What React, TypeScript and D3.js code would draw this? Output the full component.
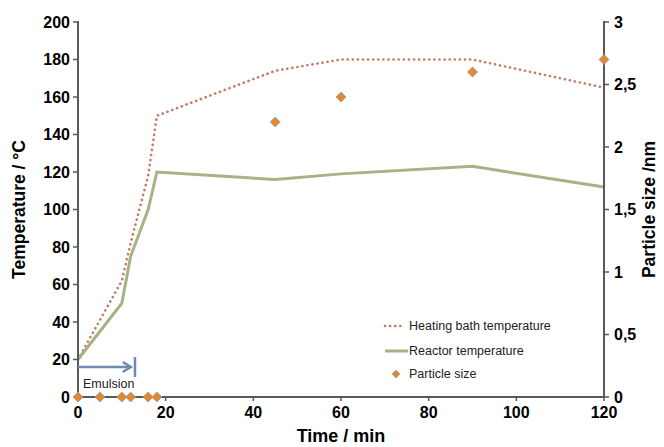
import * as d3 from 'd3';

const bathTime = [0, 10, 12, 16, 18, 45, 60, 90, 120];
const bathTemp = [20, 62, 82, 118, 150, 174, 180, 180, 165];
const reactorTime = [0, 10, 12, 16, 18, 45, 60, 90, 120];
const reactorTemp = [20, 50, 75, 100, 120, 116, 119, 123, 112];
const particleTime = [0, 5, 10, 12, 16, 18, 45, 60, 90, 120];
const particleSize = [0, 0, 0, 0, 0, 0, 2.2, 2.4, 2.6, 2.7];
const xTicks = [0, 20, 40, 60, 80, 100, 120];
const yTicks = [0, 20, 40, 60, 80, 100, 120, 140, 160, 180, 200];
const y2Ticks = [0, 0.5, 1, 1.5, 2, 2.5, 3];

const W = 664;
const H = 447;
const left = 78;
const right = 604;
const top = 22;
const bottom = 397;
const font = '"Liberation Sans", Arial, sans-serif';
const axisColor = '#595959';
const bathColor = '#c47a62';
const reactorColor = '#a7b386';
const dotColor = '#e0892f';

export default function App() {
  const x = d3.scaleLinear().domain([0, 120]).range([left, right]);
  const y = d3.scaleLinear().domain([0, 200]).range([bottom, top]);
  const y2 = d3.scaleLinear().domain([0, 3]).range([bottom, top]);

  const bathLine = d3
    .line<number>()
    .x((_, i) => x(bathTime[i]))
    .y((d) => y(d));
  const reactorLine = d3
    .line<number>()
    .x((_, i) => x(reactorTime[i]))
    .y((d) => y(d));

  const diamond = (cx: number, cy: number, r = 5) =>
    `M${cx},${cy - r}L${cx + r},${cy}L${cx},${cy + r}L${cx - r},${cy}Z`;

  return (
    <svg
      width={W}
      height={H}
      style={{ position: 'absolute', left: 0, top: 0, background: '#fff' }}
      fontFamily={font}
    >
      {/* series */}
      <path
        d={bathLine(bathTemp) ?? ''}
        fill="none"
        stroke={bathColor}
        strokeWidth={2.6}
        strokeDasharray="0.1 5"
        strokeLinecap="round"
      />
      <path d={reactorLine(reactorTemp) ?? ''} fill="none" stroke={reactorColor} strokeWidth={3} />

      {/* axes */}
      <g stroke={axisColor} strokeWidth={2}>
        <line x1={left} x2={left} y1={top - 1} y2={bottom + 1} />
        <line x1={right} x2={right} y1={top - 1} y2={bottom + 1} />
        <line x1={left} x2={right} y1={bottom} y2={bottom} />
      </g>
      {yTicks.map((t) => (
        <g key={`y${t}`}>
          <line x1={left - 5} x2={left} y1={y(t)} y2={y(t)} stroke={axisColor} strokeWidth={1.5} />
          <text x={left - 8} y={y(t)} dy="0.35em" textAnchor="end" fontSize={16} fontWeight="bold">
            {t}
          </text>
        </g>
      ))}
      {y2Ticks.map((t) => (
        <g key={`y2${t}`}>
          <line x1={right} x2={right + 5} y1={y2(t)} y2={y2(t)} stroke={axisColor} strokeWidth={1.5} />
          <text x={right + 10} y={y2(t)} dy="0.35em" fontSize={16} fontWeight="bold">
            {String(t).replace('.', ',')}
          </text>
        </g>
      ))}
      {xTicks.map((t) => (
        <g key={`x${t}`}>
          <line x1={x(t)} x2={x(t)} y1={bottom} y2={bottom + 4} stroke={axisColor} strokeWidth={1.5} />
          <text x={x(t)} y={bottom + 21} textAnchor="middle" fontSize={16} fontWeight="bold">
            {t}
          </text>
        </g>
      ))}

      {/* emulsion marker */}
      <g stroke="#6f8bb1" strokeWidth={2.5} fill="none">
        <line x1={left} x2={x(12.5) - 2} y1={y(16)} y2={y(16)} />
        <path d={`M${x(12.5) - 10},${y(16) - 5}L${x(12.5) - 2},${y(16)}L${x(12.5) - 10},${y(16) + 5}`} />
        <line x1={x(13)} x2={x(13)} y1={y(16) - 10} y2={y(16) + 10} />
      </g>
      <text x={left + 5} y={bottom - 9} fontSize={12.5} fill="#222">
        Emulsion
      </text>

      {/* particle size */}
      {particleSize.map((d, i) => (
        <path
          key={`p${i}`}
          d={diamond(x(particleTime[i]), y2(d))}
          fill={dotColor}
          stroke="#9a9a9a"
          strokeWidth={0.8}
        />
      ))}

      {/* axis titles */}
      <text
        transform={`translate(25,${(top + bottom) / 2}) rotate(-90)`}
        textAnchor="middle"
        fontSize={17.5}
        fontWeight="bold"
      >
        Temperature / °C
      </text>
      <text
        transform={`translate(655,${(top + bottom) / 2}) rotate(-90)`}
        textAnchor="middle"
        fontSize={17.5}
        fontWeight="bold"
      >
        Particle size /nm
      </text>
      <text x={(left + right) / 2} y={442} textAnchor="middle" fontSize={18} fontWeight="bold">
        Time / min
      </text>

      {/* legend */}
      <g fontSize={12.5} fill="#222">
        <line
          x1={385}
          x2={405}
          y1={326}
          y2={326}
          stroke={bathColor}
          strokeWidth={2.6}
          strokeDasharray="0.1 5"
          strokeLinecap="round"
        />
        <text x={409} y={326} dy="0.35em">
          Heating bath temperature
        </text>
        <line x1={385} x2={408} y1={351} y2={351} stroke={reactorColor} strokeWidth={3} />
        <text x={409} y={351} dy="0.35em">
          Reactor temperature
        </text>
        <path d={diamond(396, 374, 4)} fill={dotColor} stroke="#9a9a9a" strokeWidth={0.6} />
        <text x={409} y={374} dy="0.35em">
          Particle size
        </text>
      </g>
    </svg>
  );
}
